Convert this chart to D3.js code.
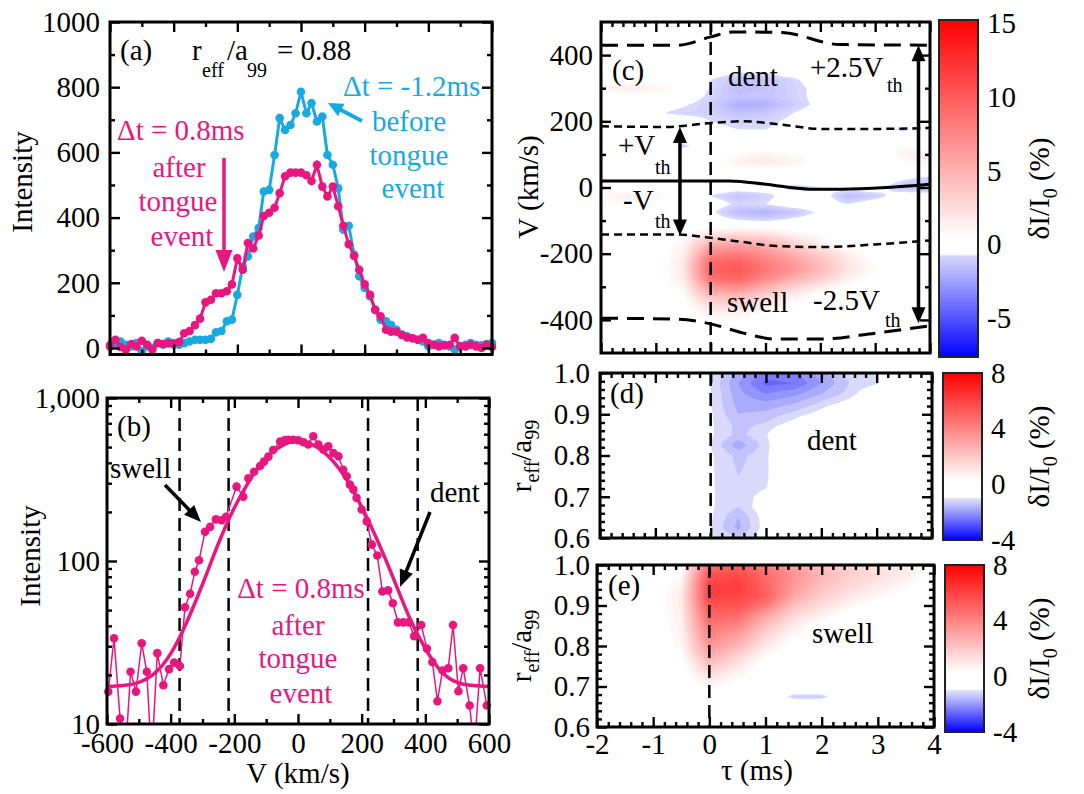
<!DOCTYPE html>
<html>
<head>
<meta charset="utf-8">
<script src="https://cdn.jsdelivr.net/npm/d3@7"></script>
<style>
  body { margin: 0; background: #fff; }
  svg { display: block; }
  text { white-space: pre; }
</style>
</head>
<body>
<svg id="fig" width="1084" height="794"></svg>
<script>
// ---------------- data ----------------

// panel (a): line profiles at r_eff/a99 = 0.88, velocity in km/s
var velA = [-600,-583,-567,-550,-533,-517,-500,-483,-467,-450,-433,-417,-400,-383,-367,-350,-333,-317,-300,-283,-267,-250,-233,-217,-200,-183,-167,-150,-133,-117,-100,-83,-67,-50,-33,-17,0,17,33,50,67,83,100,117,133,150,167,183,200,217,233,250,267,283,300,317,333,350,367,383,400,417,433,450,467,483,500,517,533,550,567,583,600];
// dt = 0.8 ms (after tongue event)
var afterA = [5,25,3,-5,12,5,22,10,-5,15,12,14,14,18,45,52,70,90,140,148,168,168,174,195,275,240,322,305,345,405,415,430,475,527,538,538,538,530,512,562,495,465,495,435,375,318,282,240,195,163,117,97,56,50,50,40,32,30,25,31,15,10,5,8,10,31,5,5,10,5,0,10,3];
// dt = -1.2 ms (before tongue event)
var beforeA = [10,15,20,10,5,15,-10,5,0,15,10,20,10,10,15,20,25,25,25,28,48,52,82,87,163,250,281,342,368,480,485,592,705,669,684,720,786,720,751,695,710,592,562,490,363,375,286,220,184,158,117,87,82,70,56,41,36,30,25,20,5,10,15,10,5,-5,5,10,15,10,8,12,15];

// panel (b): same profile on a log scale, with its Gaussian fit
var velB = [-596,-578,-559,-541,-526,-509,-491,-475,-460,-442,-423,-405,-389,-371,-355,-339,-324,-311,-292,-276,-258,-240,-226,-193,-172,-156,-138,-119,-107,-93,-78,-56,-41,-30,-15,1,17,32,48,64,80,95,111,127,142,153,163,174,184,200,216,232,249,265,283,298,314,331,348,365,387,405,422,438,454,472,487,504,519,539,554,572,593];
var afterB = [15.8,33.6,10.8,7,20.9,15.8,31.3,20.9,6,27.2,17.3,21.7,23.8,22.7,52,63,86,101,151,162,180,178,187,286,248,322,353,383,407,437,480,540,552,555,555,550,535,518,583,518,482,505,460,439,363,331,294,274,244,207,175,126,108,65,66,55,42,42,42,34.6,40.5,29,24,13.8,21.3,22,40.5,15.9,22,13,7,22,13];
var fitV = [-600,-550,-500,-450,-400,-350,-300,-250,-200,-150,-100,-50,0,50,100,150,200,250,300,350,400,450,500,550,600];
var fitI = [17,17.2,18,20.5,27,42,72,128,212,317,427,510,542,512,430,322,215,133,78,45,29,21,18,17.2,17];
var bandEdges = [-372, -218, 220, 376];

// panel (c): dI/I0 (%) versus tau (ms) and V (km/s)
var tauGrid = [-2,-1.5,-1,-0.5,0,0.5,1,1.5,2,2.5,3,3.5,4];
var vGrid = [500,475,450,425,400,375,350,325,300,275,250,225,200,175,150,125,100,75,50,25,0,-25,-50,-75,-100,-125,-150,-175,-200,-225,-250,-275,-300,-325,-350,-375,-400,-425,-450,-475,-500];
var mapC = [
  [0,0,0,0,0,0,0,0,0,0,0,0,0],
  [0,0,0,0,0,0,0,0,0,0,0,0,0],
  [0,0,0,0,0,0,0,0,0,0,0,0,0],
  [0,0,0,0,0,0,0,0,0,0,0,0,0],
  [0,0,0,0,0,0,0,0,0,0,0,0,0],
  [0,0,0,0,0,0,0,0,0,0,0,0,0],
  [0,0,0,0,0,-0.5,-0.5,0,0,0,0,0,0],
  [0,0,0,0,-0.6,-1.3,-1.2,-0.8,0,0,0,0,0],
  [1.3,1.6,1.3,0.5,-0.7,-1.5,-1.4,-0.9,-0.3,0,0,0,0],
  [0,0.3,0.3,0,-0.8,-1.4,-1.3,-0.9,-0.3,0,0,0,0],
  [0,0,-0.3,-0.5,-1.0,-2.0,-1.9,-1.1,-0.3,0,0,0,0],
  [0,0,-0.5,-0.8,-0.9,-1.4,-1.2,-0.6,0,0,0,0,0],
  [0,0,0,0,-0.6,-0.9,-0.8,-0.4,0,0,0,0,0],
  [0,0,0,0,-0.3,-0.6,-0.6,-0.3,0,0,0,-0.8,0],
  [0,0,0,0,0,0,0,0,0,0,0,0,0],
  [0,0,0,-0.8,0,0,0,0,0,0,0,0.8,0],
  [0,0,0,0,0,0.8,1.2,0.8,0,0,0,1.2,1.6],
  [0.6,0.7,0.6,0,0,1.4,1.7,1.3,0.3,0,0,0.6,1],
  [0,0,0,0,0,0,0,0,0,0,0,0,0],
  [0,0,0,0,0,0,0,0,0,0,0,-0.5,-0.9],
  [0,0,0,0,0,0,0,-0.9,-0.6,0,0,-1.3,-1.6],
  [0.9,1.3,1.1,0,-0.6,-1.3,-0.9,0,0,-1.6,-1.0,0,0],
  [0.6,0.6,0.4,0,0,-0.8,-0.6,0,0,-0.6,0,0,0],
  [0,0,0,0,-0.4,-1.6,-1.9,-1.3,-0.4,0,0,0,0],
  [0,0,0,0,0,-0.5,-0.7,-0.3,0,0,0,0,0],
  [0,0,0,0,0.8,1.1,0.8,0.3,0,0,0,0,0],
  [0,0,0,0.6,3.0,3.6,3.2,1.9,0.8,0,0,0,0],
  [0,0,0,1.1,5.5,6.0,5.2,3.5,1.6,0.5,0,0,0],
  [0,0,0,1.4,7.5,8.0,6.8,5.0,3.4,1.4,0.2,0,0],
  [0,0,0,1.7,9,9.6,8,6.2,4.2,1.9,0.5,0,0],
  [0,0,0,1.7,9.6,10.2,8.4,6.5,4.5,2.1,0.6,0,0],
  [0,0,0,1.5,8.6,9.4,7.2,5.2,3.4,1.4,0.2,0,0],
  [0,0,0,1.1,6.6,7.2,5.2,3.2,1.6,0.4,0,0,0],
  [0,0,0,0.7,4.4,4.8,3.3,1.6,0.5,0,0,0,0],
  [0,0,0,0.3,2.8,3.0,1.7,0.6,0,0,0,0,0],
  [0,0,0,0,1.5,1.5,0.6,0,0,0,0,0,0],
  [0,0,0,0,0.6,0.6,0,0,0,0,0,0,0],
  [0,0,0,0,0,0,0,0,0,0,0,0,0],
  [0,0,0,0,0,0,0,0,0,0,0,0,0],
  [0,0,0,0,0,0,0,0,0,0,0,0,0],
  [0,0,0,0,0,0,0,0,0,0,0,0,0]
];
// overlay curves in (c): line centre, +-Vth, +-2.5Vth
var tauCtr = [-2, 0.35, 1, 1.8, 2.4, 3.2, 4];
var vCtr = [20, 20, 10, -5, -5, 0, 10];
var tauThUp = [-2, -0.8, 0, 0.6, 1.3, 2, 3, 4];
var vThUp = [185, 183, 195, 200, 190, 177, 177, 180];
var tauThLo = [-2, -0.6, 0, 0.6, 1.2, 2, 3, 4];
var vThLo = [-142, -142, -152, -165, -177, -180, -172, -160];
var tau25Up = [-2, -0.6, 0, 0.4, 1.3, 2.35, 4];
var v25Up = [430, 430, 455, 470, 468, 432, 430];
var tau25Lo = [-2, -0.6, 0, 0.6, 1.2, 2, 3, 4];
var v25Lo = [-395, -398, -412, -440, -458, -458, -440, -418];

// panels (d) dent and (e) swell: dI/I0 (%) versus tau and r_eff/a99
var rGrid = [1.0,0.975,0.95,0.925,0.9,0.875,0.85,0.825,0.8,0.775,0.75,0.725,0.7,0.675,0.65,0.625,0.6];
var mapD = [
  [0,0,0,0,-1.0,-1.7,-2.3,-2.3,-1.7,-1.2,-1.0,0,0],
  [0,0,0,0,-1.0,-1.9,-2.6,-2.5,-1.9,-1.3,-1.05,-0.3,0],
  [0,0,0,0,-1.0,-1.8,-2.2,-2.0,-1.6,-1.2,-0.5,0,0],
  [0,0,0,0,-1.0,-1.7,-1.8,-1.6,-1.2,-0.8,0,0,0],
  [0,0,0,0,-0.95,-1.6,-1.5,-1.2,-0.8,0,0,0,0],
  [0,0,0,0,-0.95,-1.4,-1.25,-0.8,0,0,0,0,0],
  [0,0,0,0,-0.95,-1.4,-1.05,0,0,0,0,0,0],
  [0,0,0,0,-1.0,-1.8,-1.15,0,0,0,0,0,0],
  [0,0,0,0,-0.95,-1.4,-1.1,0,0,0,0,0,0],
  [0,0,0,0,-0.95,-1.35,-1.1,0,0,0,0,0,0],
  [0,0,0,0,-0.95,-1.3,-1.1,0,0,0,0,0,0],
  [0,0,0,0,-0.95,-1.3,-1.05,0,0,0,0,0,0],
  [0,0,0,0,-0.95,-1.25,-0.8,0,0,0,0,0,0],
  [0,0,0,0,-0.95,-1.3,-0.7,0,0,0,0,0,0],
  [0,0,0,0,-0.95,-1.6,-0.8,0,0,0,0,0,0],
  [0,0,0,0,-1.0,-1.7,-0.8,0,0,0,0,0,0],
  [0,0,0,0,-0.95,-1.3,-0.7,0,0,0,0,0,0]
];
var mapE = [
  [0,0,0,0.2,4.5,5.0,4.2,3.2,2.2,1.6,1.2,0.8,0],
  [0,0,0,0.4,5.5,5.8,4.8,3.6,2.5,1.8,1.3,0.9,0],
  [0,0,0,0.7,6.0,6.2,5.0,3.4,2.2,1.5,1.0,0.5,0],
  [0,0,0,0.9,6.0,6.0,5.2,3.0,1.8,1.1,0.6,0,0],
  [0,0,0,0.9,5.5,5.5,4.4,2.2,1.3,0.6,0,0,0],
  [0,0,0,0.8,5.0,4.8,3.0,1.5,0.7,0,0,0,0],
  [0,0,0,0.7,4.5,4.0,2.2,0.9,0,0,0,0,0],
  [0,0,0,0.6,4.0,3.2,1.5,0.4,0,0,0,0,0],
  [0,0,0,0.5,3.5,2.5,1.0,0,0,0,0,0,0],
  [0,0,0,0.3,2.8,1.6,0.4,0,0,0,0,0,0],
  [0,0,0,0,2.0,1.0,0,0,0,0,0,0,0],
  [0,0,0,0,1.2,0.5,0,0,0,0,0,0,0],
  [0,0,0,0,0.5,0,0,0,0,0,0,0,0],
  [0,0,0,0,0,0,0,-1.3,-1.3,0,0,0,0],
  [0,0,0,0,0,0,0,0,0,0,0,0,0],
  [0,0,0,0,0,0,0,0,0,0,0,0,0],
  [0,0,0,0,0,0,0,0,0,0,0,0,0]
];
var cbTicksC = [15, 10, 5, 0, -5];
var cbTicksDE = [8, 4, 0, -4];

// ---------------- drawing ----------------
var FONT = "'Liberation Serif', 'Times New Roman', serif";
var PINK = "#e8177f";
var BLUE = "#19a9e1";

var svg = d3.select("#fig");
svg.append("rect").attr("width", 1084).attr("height", 794).attr("fill", "#fff");
var defs = svg.append("defs");

function clip(id, x0, y0, x1, y1) {
  defs.append("clipPath").attr("id", id).append("rect")
    .attr("x", x0).attr("y", y0).attr("width", x1 - x0).attr("height", y1 - y0);
  return "url(#" + id + ")";
}

function label(x, y, s, size, anchor, color) {
  return svg.append("text").attr("x", x).attr("y", y)
    .attr("font-family", FONT).attr("font-size", size || 29)
    .attr("text-anchor", anchor || "start").attr("fill", color || "#000").text(s);
}

function rotLabel(x, y, parts) {
  var t = svg.append("text").attr("transform", "translate(" + x + "," + y + ") rotate(-90)")
    .attr("text-anchor", "middle").attr("font-family", FONT).attr("fill", "#000");
  parts.forEach(function(p) {
    t.append("tspan").attr("font-size", p[1]).attr("dy", p[2]).text(p[0]);
  });
}

function arrow(x1, y1, x2, y2, o) {
  var a = Math.atan2(y2 - y1, x2 - x1);
  var cut = o.len * 0.7;
  var sx1 = o.both ? x1 + cut * Math.cos(a) : x1, sy1 = o.both ? y1 + cut * Math.sin(a) : y1;
  svg.append("line").attr("x1", sx1).attr("y1", sy1)
    .attr("x2", x2 - cut * Math.cos(a)).attr("y2", y2 - cut * Math.sin(a))
    .attr("stroke", o.color).attr("stroke-width", o.width);
  function head(px, py, ang) {
    var bx = px - o.len * Math.cos(ang), by = py - o.len * Math.sin(ang);
    var nx = -Math.sin(ang) * o.half, ny = Math.cos(ang) * o.half;
    svg.append("path").attr("fill", o.color)
      .attr("d", "M" + px + "," + py + "L" + (bx + nx) + "," + (by + ny) + "L" + (bx - nx) + "," + (by - ny) + "Z");
  }
  head(x2, y2, a);
  if (o.both) head(x1, y1, a + Math.PI);
}

// frame with inward ticks on all four sides
function frame(x, y, t) {
  var x0 = x.range()[0], x1 = x.range()[1], yb = y.range()[0], yt = y.range()[1];
  var g = svg.append("g");
  function side(axis, vals, len, tx, ty) {
    var a = g.append("g").attr("transform", "translate(" + tx + "," + ty + ")")
      .call(axis.tickValues(vals).tickSize(-len).tickSizeOuter(0).tickFormat(""));
    a.select(".domain").remove();
    a.selectAll("line").attr("stroke", "#000").attr("stroke-width", 2.4);
  }
  side(d3.axisBottom(x), t.xMajor, 10, 0, yb);
  side(d3.axisBottom(x), t.xMinor, 5, 0, yb);
  side(d3.axisTop(x), t.xMajor, 10, 0, yt);
  side(d3.axisTop(x), t.xMinor, 5, 0, yt);
  side(d3.axisLeft(y), t.yMajor, 10, x0, 0);
  side(d3.axisLeft(y), t.yMinor, 5, x0, 0);
  side(d3.axisRight(y), t.yMajor, 10, x1, 0);
  side(d3.axisRight(y), t.yMinor, 5, x1, 0);
  g.append("rect").attr("x", x0).attr("y", yt).attr("width", x1 - x0).attr("height", yb - yt)
    .attr("fill", "none").attr("stroke", "#000").attr("stroke-width", 3);
}

function tickLabels(axis, vals, fmt, pad, tx, ty) {
  var a = svg.append("g").attr("transform", "translate(" + tx + "," + ty + ")")
    .call(axis.tickValues(vals).tickFormat(fmt).tickSize(0).tickPadding(pad));
  a.select(".domain").remove();
  a.attr("font-family", FONT).attr("font-size", 29);
  a.selectAll("text").attr("fill", "#000");
}

// filled contour map from a coarse grid, bilinearly refined
function drawMap(grid, cols, rows, x, y, color, lo, hi, step, upX, upY, clipUrl) {
  var nc = cols.length, nr = rows.length;
  var nx = (nc - 1) * upX + 1, ny = (nr - 1) * upY + 1;
  var values = new Array(nx * ny);
  for (var j = 0; j < ny; j++) {
    var fj = j / upY, j0 = Math.min(Math.floor(fj), nr - 2), tj = fj - j0;
    for (var i = 0; i < nx; i++) {
      var fi = i / upX, i0 = Math.min(Math.floor(fi), nc - 2), ti = fi - i0;
      var a = grid[j0][i0], b = grid[j0][i0 + 1], c = grid[j0 + 1][i0], d = grid[j0 + 1][i0 + 1];
      values[j * nx + i] = (a * (1 - ti) + b * ti) * (1 - tj) + (c * (1 - ti) + d * ti) * tj;
    }
  }
  var thr = d3.range(lo, hi, step);
  var contours = d3.contours().size([nx, ny]).thresholds(thr)(values);
  var dc = (cols[nc - 1] - cols[0]) / (nx - 1), dr = (rows[nr - 1] - rows[0]) / (ny - 1);
  var proj = d3.geoTransform({
    point: function(px, py) {
      this.stream.point(x(cols[0] + (px - 0.5) * dc), y(rows[0] + (py - 0.5) * dr));
    }
  });
  var path = d3.geoPath(proj);
  svg.append("g").attr("clip-path", clipUrl)
    .selectAll("path").data(contours).join("path")
    .attr("d", path)
    .attr("fill", function(d) { return color(d.value + step / 2); });
}

function colorbar(id, x0, x1, y0, y1, lo, hi, color, ticks) {
  var yb = d3.scaleLinear().domain([lo, hi]).range([y1, y0]);
  var grad = defs.append("linearGradient").attr("id", id)
    .attr("x1", 0).attr("y1", 1).attr("x2", 0).attr("y2", 0);
  d3.range(0, 1.0001, 0.005).forEach(function(t) {
    grad.append("stop").attr("offset", t).attr("stop-color", color(lo + t * (hi - lo)));
  });
  svg.append("rect").attr("x", x0).attr("y", y0).attr("width", x1 - x0).attr("height", y1 - y0)
    .attr("fill", "url(#" + id + ")").attr("stroke", "#222").attr("stroke-width", 2);
  tickLabels(d3.axisRight(yb), ticks, function(d) { return String(d); }, 9, x1, 0);
  rotLabel(1049, (y0 + y1) / 2, [["δI/I", 29, 0], ["0", 20, 8], [" (%)", 29, -8]]);
}

var vMajor = d3.range(-600, 601, 200), vMinor = d3.range(-500, 600, 200);
var tauAll = d3.range(-2, 4.0001, 0.2);
var tauMajor = [-2, -1, 0, 1, 2, 3, 4];
var tauMinor = tauAll.filter(function(v) { return Math.abs(v - Math.round(v)) > 1e-6; });
var rMajor = [0.6, 0.7, 0.8, 0.9, 1.0];
var rMinor = d3.range(0.6, 1.0001, 0.02).filter(function(v) { return Math.abs(v * 10 - Math.round(v * 10)) > 1e-6; });

// ---------- panel (a) ----------
var xA = d3.scaleLinear().domain([-600, 600]).range([110, 492]);
var yA = d3.scaleLinear().domain([-20, 1000]).range([354.5, 22]);
var lineA = d3.line().x(function(d) { return xA(d[0]); }).y(function(d) { return yA(d[1]); });

[[beforeA, BLUE], [afterA, PINK]].forEach(function(s) {
  var pts = d3.zip(velA, s[0]);
  svg.append("path").datum(pts).attr("d", lineA).attr("fill", "none")
    .attr("stroke", s[1]).attr("stroke-width", 3);
  svg.append("g").selectAll("circle").data(pts).join("circle")
    .attr("cx", function(d) { return xA(d[0]); }).attr("cy", function(d) { return yA(d[1]); })
    .attr("r", 4.3).attr("fill", s[1]);
});
frame(xA, yA, { xMajor: vMajor, xMinor: vMinor, yMajor: d3.range(0, 1001, 200), yMinor: d3.range(100, 1000, 200) });
tickLabels(d3.axisLeft(yA), d3.range(0, 1001, 200), function(d) { return String(d); }, 10, 110, 0);
rotLabel(32, 182, [["Intensity", 29, 0]]);

label(120, 60, "(a)");
label(192, 60, "r");
label(202, 77, "eff", 20);
label(227, 60, "/a");
label(247, 77, "99", 20);
label(277, 60, "= 0.88");

label(343, 96, "Δt = -1.2ms", 29, "start", BLUE);
label(409, 131, "before", 29, "middle", BLUE);
label(409, 165, "tongue", 29, "middle", BLUE);
label(413, 198, "event", 29, "middle", BLUE);
arrow(362, 121, 328, 103, { color: BLUE, width: 4, len: 15, half: 7 });

label(117, 140, "Δt = 0.8ms", 29, "start", PINK);
label(179, 177, "after", 29, "middle", PINK);
label(178, 211, "tongue", 29, "middle", PINK);
label(182, 246, "event", 29, "middle", PINK);
arrow(224, 158, 224, 272, { color: PINK, width: 3.5, len: 22, half: 8.5 });

// ---------- panel (b) ----------
var xB = d3.scaleLinear().domain([-600, 600]).range([107, 489]);
var yB = d3.scaleLog().domain([10, 1000]).range([724, 398]);
var clipB = clip("clipB", 95, 398, 500, 724);
var lineB = d3.line().x(function(d) { return xB(d[0]); }).y(function(d) { return yB(d[1]); });

var gB = svg.append("g").attr("clip-path", clipB);
gB.selectAll("line.band").data(bandEdges).join("line")
  .attr("x1", function(d) { return xB(d); }).attr("x2", function(d) { return xB(d); })
  .attr("y1", 398).attr("y2", 724)
  .attr("stroke", "#000").attr("stroke-width", 2.5).attr("stroke-dasharray", "13,7");
var ptsB = d3.zip(velB, afterB);
gB.append("path").datum(ptsB).attr("d", lineB).attr("fill", "none")
  .attr("stroke", PINK).attr("stroke-width", 1.5);
gB.append("path").datum(d3.zip(fitV, fitI)).attr("d", lineB.curve(d3.curveNatural)).attr("fill", "none")
  .attr("stroke", PINK).attr("stroke-width", 3.5);
gB.selectAll("circle").data(ptsB).join("circle")
  .attr("cx", function(d) { return xB(d[0]); }).attr("cy", function(d) { return yB(d[1]); })
  .attr("r", 4.3).attr("fill", PINK);

frame(xB, yB, {
  xMajor: vMajor, xMinor: vMinor, yMajor: [10, 100, 1000],
  yMinor: [20, 30, 40, 50, 60, 70, 80, 90, 200, 300, 400, 500, 600, 700, 800, 900]
});
tickLabels(d3.axisLeft(yB), [10, 100, 1000], d3.format(","), 7, 107, 0);
tickLabels(d3.axisBottom(xB), vMajor, function(d) { return String(d); }, 8, 0, 724);
rotLabel(40, 556, [["Intensity", 29, 0]]);
label(298, 783, "V (km/s)", 29, "middle");

label(117, 436, "(b)");
label(110, 478, "swell");
arrow(165, 485, 201, 522, { color: "#000", width: 3.5, len: 17, half: 7 });
label(430, 502, "dent");
arrow(430, 512, 400, 587, { color: "#000", width: 3.5, len: 17, half: 7 });
label(301, 598, "Δt = 0.8ms", 29, "middle", PINK);
label(298, 635, "after", 29, "middle", PINK);
label(298, 668, "tongue", 29, "middle", PINK);
label(301, 703, "event", 29, "middle", PINK);

// ---------- panel (c) ----------
var xC = d3.scaleLinear().domain([-2, 4]).range([601, 930]);
var yC = d3.scaleLinear().domain([-500, 500]).range([353, 22]);
var clipC = clip("clipC", 601, 22, 930, 353);
var colC = d3.scaleLinear().domain([-7.6, -0.7, -0.69, 0.5, 15.2])
  .range(["#0000ff", "#d8d8ff", "#ffffff", "#ffffff", "#ff0000"]).clamp(true);
drawMap(mapC, tauGrid, vGrid, xC, yC, colC, -7.6, 15.2, 0.2, 8, 3, clipC);

var gC = svg.append("g").attr("clip-path", clipC);
var lineC = d3.line().curve(d3.curveMonotoneX)
  .x(function(d) { return xC(d[0]); }).y(function(d) { return yC(d[1]); });
gC.append("path").datum(d3.zip(tauCtr, vCtr)).attr("d", lineC)
  .attr("fill", "none").attr("stroke", "#000").attr("stroke-width", 3);
[[tauThUp, vThUp], [tauThLo, vThLo]].forEach(function(s) {
  gC.append("path").datum(d3.zip(s[0], s[1])).attr("d", lineC)
    .attr("fill", "none").attr("stroke", "#000").attr("stroke-width", 2.5).attr("stroke-dasharray", "8,5");
});
[[tau25Up, v25Up], [tau25Lo, v25Lo]].forEach(function(s) {
  gC.append("path").datum(d3.zip(s[0], s[1])).attr("d", lineC)
    .attr("fill", "none").attr("stroke", "#000").attr("stroke-width", 3).attr("stroke-dasharray", "17,9");
});
gC.append("line").attr("x1", xC(0)).attr("x2", xC(0)).attr("y1", 22).attr("y2", 353)
  .attr("stroke", "#000").attr("stroke-width", 2.5).attr("stroke-dasharray", "13,7");

frame(xC, yC, { xMajor: tauMajor, xMinor: tauMinor, yMajor: [-400, -200, 0, 200, 400], yMinor: [-300, -100, 100, 300] });
tickLabels(d3.axisLeft(yC), [-400, -200, 0, 200, 400], function(d) { return String(d); }, 8, 601, 0);
rotLabel(538, 187, [["V (km/s)", 29, 0]]);

arrow(xC(-0.56), yC(183), xC(-0.56), yC(-145), { color: "#000", width: 3.5, len: 16, half: 7, both: true });
arrow(xC(3.79), yC(430), xC(3.79), yC(-410), { color: "#000", width: 3.5, len: 16, half: 7, both: true });

label(612, 80, "(c)");
label(728, 86, "dent");
label(810, 77, "+2.5V");
label(887, 92, "th", 20);
label(618, 155, "+V");
label(655, 174, "th", 20);
label(623, 210, "-V");
label(655, 228, "th", 20);
label(727, 312, "swell");
label(813, 310, "-2.5V");
label(885, 327, "th", 20);

colorbar("cbC", 939, 978, 20, 357, -7.6, 15.2, colC, cbTicksC);

// ---------- panels (d) and (e) ----------
var colDE = d3.scaleLinear().domain([-4, -1.0, -0.99, 0.3, 8])
  .range(["#0000ff", "#e4e4fc", "#ffffff", "#ffffff", "#ff0000"]).clamp(true);

var xD = d3.scaleLinear().domain([-2, 4]).range([600, 932]);
var yD = d3.scaleLinear().domain([0.6, 1.0]).range([538, 373]);
var clipD = clip("clipD", 600, 373, 932, 538);
drawMap(mapD, tauGrid, rGrid, xD, yD, colDE, -4, 8, 0.3, 8, 4, clipD);
svg.append("line").attr("x1", xD(0)).attr("x2", xD(0)).attr("y1", 373).attr("y2", 538)
  .attr("stroke", "#000").attr("stroke-width", 2.5).attr("stroke-dasharray", "13,7");
frame(xD, yD, { xMajor: tauMajor, xMinor: tauMinor, yMajor: rMajor, yMinor: rMinor });
tickLabels(d3.axisLeft(yD), rMajor, d3.format(".1f"), 10, 600, 0);
rotLabel(531, 456, [["r", 29, 0], ["eff", 20, 8], ["/a", 29, -8], ["99", 20, 8]]);
label(610, 403, "(d)");
label(807, 450, "dent");
colorbar("cbD", 943, 982, 373, 540, -4, 8, colDE, cbTicksDE);

var xE = d3.scaleLinear().domain([-2, 4]).range([597, 934]);
var yE = d3.scaleLinear().domain([0.6, 1.0]).range([727, 565]);
var clipE = clip("clipE", 597, 565, 934, 727);
drawMap(mapE, tauGrid, rGrid, xE, yE, colDE, -4, 8, 0.2, 8, 4, clipE);
svg.append("line").attr("x1", xE(0)).attr("x2", xE(0)).attr("y1", 565).attr("y2", 727)
  .attr("stroke", "#000").attr("stroke-width", 2.5).attr("stroke-dasharray", "13,7");
frame(xE, yE, { xMajor: tauMajor, xMinor: tauMinor, yMajor: rMajor, yMinor: rMinor });
tickLabels(d3.axisLeft(yE), rMajor, d3.format(".1f"), 7, 597, 0);
tickLabels(d3.axisBottom(xE), tauMajor, function(d) { return String(d); }, 6, 0, 727);
rotLabel(531, 646, [["r", 29, 0], ["eff", 20, 8], ["/a", 29, -8], ["99", 20, 8]]);
label(757, 780, "τ (ms)", 29, "middle");
label(608, 595, "(e)");
label(812, 643, "swell");
colorbar("cbE", 945, 984, 565, 732, -4, 8, colDE, cbTicksDE);
</script>
</body>
</html>
